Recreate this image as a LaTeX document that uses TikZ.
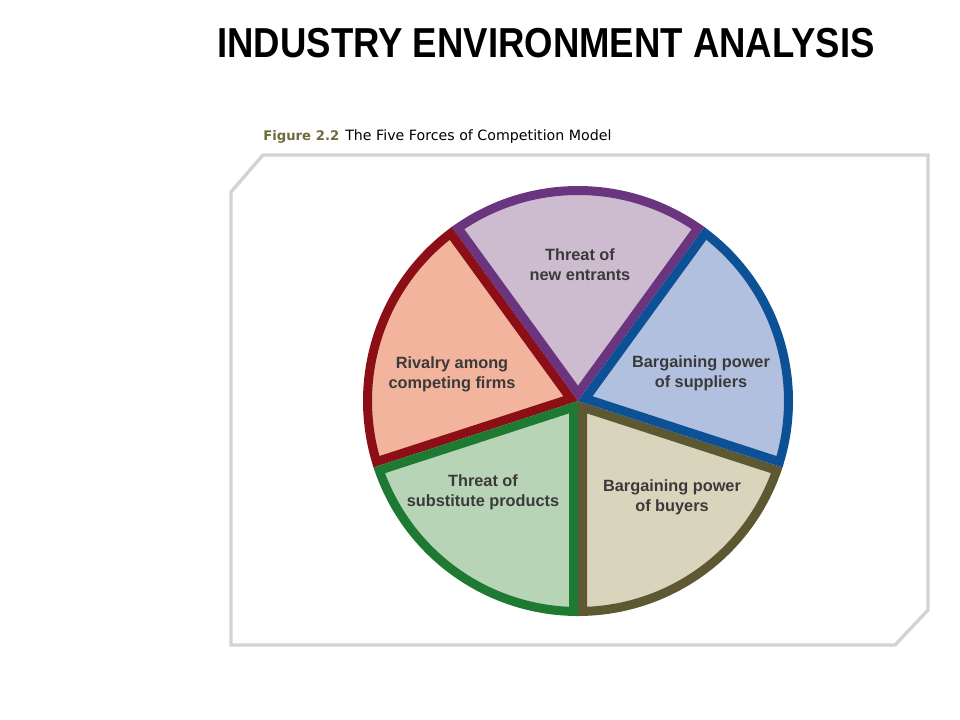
\documentclass[tikz,border=0pt]{standalone}
\usepackage{fontspec}
\usepackage{graphicx}
\setmainfont{Liberation Sans}
\newfontfamily\capfont{DejaVu Sans}
\definecolor{entrline}{HTML}{6A357E}
\definecolor{entrfill}{HTML}{CDBBCF}
\definecolor{rivline}{HTML}{8C0E16}
\definecolor{rivfill}{HTML}{F2B49C}
\definecolor{subline}{HTML}{1E7A33}
\definecolor{subfill}{HTML}{B8D4B6}
\definecolor{buyline}{HTML}{5D5832}
\definecolor{buyfill}{HTML}{D9D5BD}
\definecolor{supline}{HTML}{0C5196}
\definecolor{supfill}{HTML}{B2C0DF}
\definecolor{labelgray}{HTML}{3A3A3A}
\definecolor{capolive}{HTML}{6E6C3A}
\definecolor{framegray}{HTML}{D3D3D3}
\begin{document}
\begin{tikzpicture}[x=0.025cm,y=0.025cm,
  forcetext/.style={align=center,text=labelgray,font=\fontsize{11.6}{14.2}\selectfont\bfseries}]
\useasboundingbox (0,0) rectangle (960,-720);
% Title and figure caption
\node[anchor=base] (title) at (546,-58) {\fontsize{29.8}{30}\selectfont\bfseries\scalebox{0.872}[1]{INDUSTRY ENVIRONMENT ANALYSIS}};
\node[anchor=base west,inner sep=0] (fignum) at (263,-141) {\capfont\fontsize{9.4}{10}\selectfont\bfseries\color{capolive}Figure 2.2};
\node[anchor=base west,inner sep=0] (figtitle) at (345,-141) {\capfont\fontsize{10.1}{11}\selectfont The Five Forces of Competition Model};
% Frame with cut corners
\draw[framegray,line width=2.4pt] (263,-155) -- (928,-155) -- (928,-610) -- (895,-645) -- (231,-645) -- (231,-192) -- cycle;
% Five slices, each pulled in by half its border
\begin{scope}[shift={(578,-401)},line width=6.4pt]
\foreach \a/\fc/\bc in {54/entrfill/entrline,126/rivfill/rivline,198/subfill/subline,270/buyfill/buyline,342/supfill/supline}
  \draw[fill=\fc,draw=\bc] (\a+36:7.66) -- (\a+1.225:210.5) arc[start angle=\a+1.225, end angle=\a+70.775, radius=210.5] -- cycle;
\end{scope}
% Forces
\node[forcetext] (entrants) at (580,-265) {Threat of\\new entrants};
\node[forcetext] (suppliers) at (701,-373) {Bargaining power\\of suppliers};
\node[forcetext] (rivalry) at (452,-374) {Rivalry among\\competing firms};
\node[forcetext] (substitutes) at (483,-492) {Threat of\\substitute products};
\node[forcetext] (buyers) at (672,-497) {Bargaining power\\of buyers};
\end{tikzpicture}
\end{document}
